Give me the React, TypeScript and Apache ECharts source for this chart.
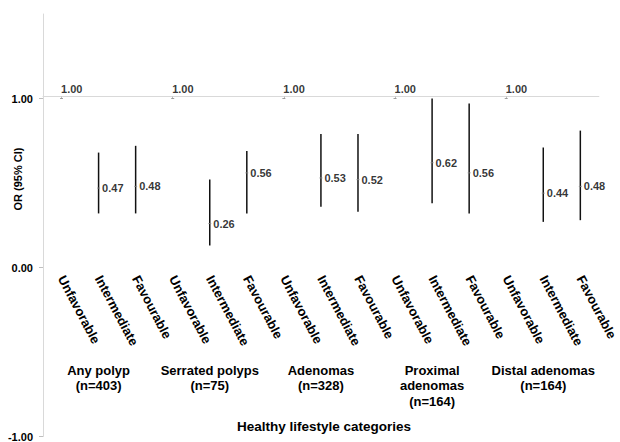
import React, { useEffect, useRef } from "react";
import * as echarts from "echarts";

const levels = ["Unfavorable", "Intermediate", "Favourable"];
const groups = [
  "Any polyp\n(n=403)",
  "Serrated polyps\n(n=75)",
  "Adenomas\n(n=328)",
  "Proximal\nadenomas\n(n=164)",
  "Distal adenomas\n(n=164)",
];
const categories = groups.flatMap(() => levels);
const orValues = [1.0, 0.47, 0.48, 1.0, 0.26, 0.56, 1.0, 0.53, 0.52, 1.0, 0.62, 0.56, 1.0, 0.44, 0.48];
const ciLower = [1.0, 0.32, 0.32, 1.0, 0.13, 0.32, 1.0, 0.36, 0.33, 1.0, 0.38, 0.32, 1.0, 0.27, 0.28];
const ciUpper = [1.0, 0.68, 0.72, 1.0, 0.52, 0.69, 1.0, 0.79, 0.79, 1.0, 1.0, 0.97, 1.0, 0.71, 0.81];
const yTicks = [-1, 0, 1];
const xAxisTitle = "Healthy lifestyle categories";
const yAxisTitle = "OR (95% CI)";

const FONT = '"Liberation Sans", Arial, sans-serif';
const AXIS_GREY = "#d9d9d9";

export default function App() {
  const ref = useRef<HTMLDivElement>(null);
  useEffect(() => {
    document.body.style.margin = "0";
    if (!ref.current) return;
    const chart = echarts.init(ref.current, null, { renderer: "svg" });
    const scatterData = orValues.map((v, i) => {
      const isRef = i % 3 === 0;
      return {
        value: [i, v],
        label: isRef
          ? { position: [1, -9], align: "left", verticalAlign: "middle" }
          : { position: "right", distance: 2 },
      };
    });
    const errData = orValues.map((_, i) => [i, ciLower[i], ciUpper[i]]);
    chart.setOption({
      animation: false,
      grid: { left: 43, right: 20, top: 14, bottom: 3, containLabel: false },
      xAxis: [
        {
          type: "category",
          data: categories,
          position: "bottom",
          offset: -170,
          axisLine: { show: false, onZero: false },
          axisTick: { show: false },
          axisLabel: {
            interval: 0,
            rotate: -62,
            margin: 10,
            fontSize: 13,
            fontWeight: "bold",
            fontFamily: FONT,
            color: "#000",
          },
        },
        {
          type: "category",
          data: categories,
          position: "bottom",
          offset: -340,
          axisLine: { show: true, onZero: false, lineStyle: { color: AXIS_GREY, width: 1 } },
          axisTick: {
            show: true,
            alignWithLabel: true,
            length: 2,
            interval: (idx: number) => idx % 3 === 0,
            lineStyle: { color: "#bfbfbf" },
          },
          axisLabel: { show: false },
        },
        {
          type: "category",
          data: groups,
          position: "bottom",
          offset: -85,
          axisLine: { show: false, onZero: false },
          axisTick: { show: false },
          axisLabel: {
            interval: 0,
            margin: 11,
            fontSize: 13,
            lineHeight: 15.5,
            fontWeight: "bold",
            fontFamily: FONT,
            color: "#000",
          },
        },
      ],
      yAxis: {
        type: "value",
        min: -1,
        max: 1.5,
        interval: 1,
        splitLine: { show: false },
        axisLine: { show: true, lineStyle: { color: AXIS_GREY } },
        axisTick: { show: true, length: 4, customValues: yTicks, lineStyle: { color: "#bfbfbf" } },
        axisLabel: {
          customValues: yTicks,
          margin: 10,
          fontSize: 11,
          fontWeight: "bold",
          fontFamily: FONT,
          color: "#000",
          formatter: (v: number) => v.toFixed(2),
        },
      },
      graphic: [
        {
          type: "text",
          x: 18,
          y: 179,
          rotation: Math.PI / 2,
          style: {
            text: yAxisTitle,
            font: `bold 11px ${FONT}`,
            fill: "#000",
            align: "center",
            verticalAlign: "middle",
          },
        },
        {
          type: "text",
          x: 324,
          y: 426,
          style: {
            text: xAxisTitle,
            font: `bold 13.5px ${FONT}`,
            fill: "#000",
            align: "center",
            verticalAlign: "middle",
          },
        },
      ],
      series: [
        {
          type: "custom",
          xAxisIndex: 0,
          yAxisIndex: 0,
          data: errData,
          encode: { x: 0, y: [1, 2] },
          renderItem: (params: any, api: any) => {
            const lo = api.coord([api.value(0), api.value(1)]);
            const hi = api.coord([api.value(0), api.value(2)]);
            if (Math.abs(lo[1] - hi[1]) < 0.5) return null;
            return {
              type: "line",
              shape: { x1: lo[0], y1: lo[1], x2: hi[0], y2: hi[1] },
              style: { stroke: "#111", lineWidth: 1.5 },
            };
          },
          z: 2,
        },
        {
          type: "scatter",
          xAxisIndex: 0,
          yAxisIndex: 0,
          symbol: "rect",
          symbolSize: [3, 1],
          itemStyle: { color: "#888" },
          data: scatterData,
          label: {
            show: true,
            fontSize: 11,
            fontWeight: "bold",
            fontFamily: FONT,
            color: "#000",
            formatter: (p: any) => p.value[1].toFixed(2),
          },
          z: 3,
        },
      ],
    });
    return () => chart.dispose();
  }, []);
  return <div ref={ref} style={{ width: 620, height: 442 }} />;
}
